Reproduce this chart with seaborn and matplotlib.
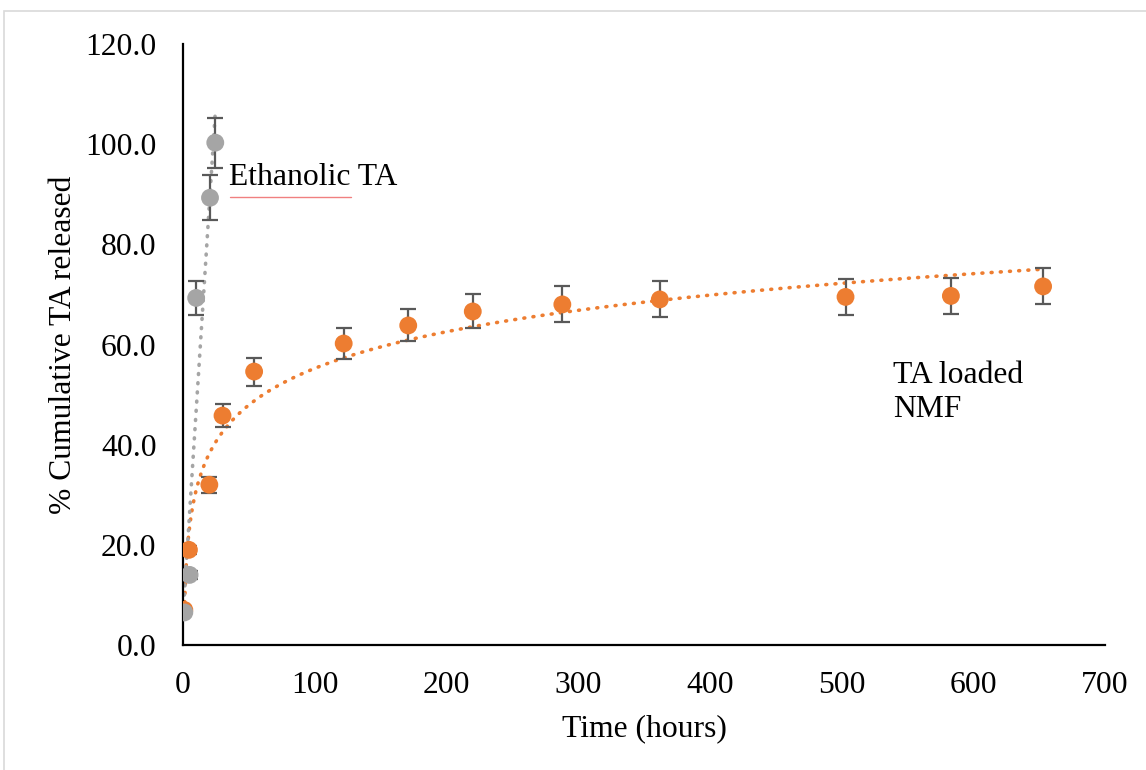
import numpy as np
import pandas as pd
import matplotlib
matplotlib.use("Agg")
import matplotlib.pyplot as plt
from matplotlib.patches import Rectangle
import seaborn as sns

# ---- data ----
eth_time = [1, 5, 10, 20.5, 24.5]
eth_release = [6.5, 14.0, 69.3, 89.3, 100.3]
eth_err = [0.6, 0.8, 3.4, 4.5, 5.0]

nmf_time = [1, 4.5, 20, 30, 54, 122, 171, 220, 288, 362, 503, 583, 653]
nmf_release = [7.0, 19.0, 32.0, 45.8, 54.6, 60.2, 63.8, 66.6, 68.0, 69.0, 69.5, 69.7, 71.6]
nmf_err = [0.6, 0.8, 1.6, 2.3, 2.8, 3.0, 3.2, 3.4, 3.6, 3.6, 3.6, 3.6, 3.6]

xticks = [0, 100, 200, 300, 400, 500, 600, 700]
yticks = [0, 20, 40, 60, 80, 100, 120]

ORANGE = "#ED7D31"
GREY = "#A5A5A5"
ERR = "#595959"

sns.set_theme(style="white")
plt.rcParams["font.family"] = ["Liberation Serif", "DejaVu Serif"]
FS = 22.8

fig = plt.figure(figsize=(11.46, 7.70), dpi=100)
ax = fig.add_axes([183 / 1146, 1 - 645 / 770, (1105 - 183) / 1146, (645 - 44) / 770])

# light frame around chart
fig.patches.append(Rectangle((4 / 1146, -0.1), 1.2, 1 - 11 / 770 + 0.1,
                             transform=fig.transFigure, fill=False,
                             edgecolor="#D9D9D9", linewidth=1.2))

# trendlines
eth = pd.DataFrame({"t": eth_time, "y": eth_release})
nmf = pd.DataFrame({"t": nmf_time, "y": nmf_release})
lin = np.polyfit(eth["t"], eth["y"], 1)
tl = np.linspace(min(eth_time), max(eth_time), 50)
logc = np.polyfit(np.log(nmf["t"]), nmf["y"], 1)
tn = np.linspace(min(nmf_time), max(nmf_time), 600)
trend_e = pd.DataFrame({"t": tl, "y": np.polyval(lin, tl)})
trend_n = pd.DataFrame({"t": tn, "y": np.polyval(logc, np.log(tn))})

dot = (0, (0.25, 2.3))
sns.lineplot(data=trend_n, x="t", y="y", ax=ax, color=ORANGE, linewidth=2.6,
             linestyle=dot, dash_capstyle="round", zorder=2)
sns.lineplot(data=trend_e, x="t", y="y", ax=ax, color=GREY, linewidth=2.6,
             linestyle=dot, dash_capstyle="round", zorder=2)

# error bars
ax.errorbar(nmf_time, nmf_release, yerr=nmf_err, fmt="none", ecolor=ERR,
            elinewidth=1.6, capsize=5.5, capthick=1.6, zorder=3)
ax.errorbar(eth_time, eth_release, yerr=eth_err, fmt="none", ecolor=ERR,
            elinewidth=1.6, capsize=5.5, capthick=1.6, zorder=3)

# points
sns.scatterplot(data=nmf, x="t", y="y", ax=ax, color=ORANGE, s=165,
                edgecolor="none", zorder=4)
sns.scatterplot(data=eth, x="t", y="y", ax=ax, color=GREY, s=165,
                edgecolor="none", zorder=4)

ax.set_xlim(0, 700)
ax.set_ylim(0, 120)
ax.set_xticks(xticks)
ax.set_xticklabels([str(v) for v in xticks])
ax.set_yticks(yticks)
ax.set_yticklabels([f"{v:.1f}" for v in yticks])
ax.tick_params(axis="both", length=0, labelsize=FS, colors="black")
ax.tick_params(axis="x", pad=19)
ax.tick_params(axis="y", pad=19)

for s in ["top", "right"]:
    ax.spines[s].set_visible(False)
for s in ["left", "bottom"]:
    ax.spines[s].set_color("black")
    ax.spines[s].set_linewidth(1.6)

ax.set_xlabel("Time (hours)", fontsize=FS, color="black", labelpad=10)
ax.set_ylabel("% Cumulative TA released", fontsize=FS, color="black", labelpad=5)
ax.grid(False)

ax.text(35, 93.4, "Ethanolic TA", fontsize=FS, va="center", ha="left", color="black")
ax.text(539, 53.8, "TA loaded", fontsize=FS, va="center", ha="left", color="black")
ax.text(539, 47.0, "NMF", fontsize=FS, va="center", ha="left", color="black")

# spell-check squiggle under "Ethanolic"
fig.add_artist(plt.Line2D([230 / 1146, 351 / 1146], [1 - 197 / 770, 1 - 197 / 770],
                          color="#F08080", linewidth=1.0))

fig.savefig("out.png", dpi=100)
